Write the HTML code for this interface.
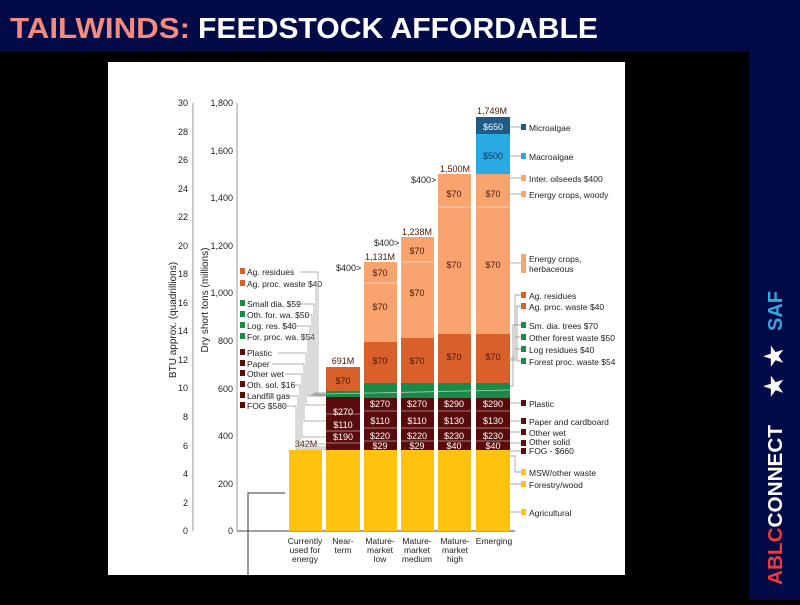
<!DOCTYPE html>
<html><head><style>body{margin:0;width:800px;height:600px;overflow:hidden;background:#000}</style></head><body>
<svg width="800" height="600" xmlns="http://www.w3.org/2000/svg" font-family="Liberation Sans, sans-serif">
<rect width="800" height="600" fill="#000"/>
<rect width="800" height="52" fill="#020a48"/>
<rect x="749" y="0" width="51" height="600" fill="#020a48"/>
<text x="10" y="38" font-size="29" font-weight="bold" fill="#f58a7e" textLength="180" lengthAdjust="spacingAndGlyphs">TAILWINDS:</text>
<text x="198" y="38" font-size="29" font-weight="bold" fill="#fff" textLength="400" lengthAdjust="spacingAndGlyphs">FEEDSTOCK AFFORDABLE</text>
<g transform="translate(782,585) rotate(-90)" font-weight="bold" font-size="20">
<text x="0" y="0" textLength="160" lengthAdjust="spacingAndGlyphs"><tspan fill="#f0393a">ABLC</tspan><tspan fill="#fff">CONNECT</tspan></text>
<text x="188" y="0" fill="#fff" font-size="24">★</text>
<text x="218" y="0" fill="#fff" font-size="24">★</text>
<text x="254" y="0" fill="#3aa6e0">SAF</text>
</g>
<rect x="108" y="62" width="517" height="513" fill="#fff"/>
<g font-size="9" fill="#222">
<!-- axes -->
<line x1="193" y1="103" x2="193" y2="531" stroke="#999"/>
<line x1="237" y1="103" x2="237" y2="531" stroke="#999"/>
<line x1="237" y1="531" x2="515" y2="531" stroke="#444"/>
<g text-anchor="end">
<text x="188" y="106">30</text><text x="188" y="135">28</text><text x="188" y="163">26</text><text x="188" y="192">24</text><text x="188" y="220">22</text><text x="188" y="249">20</text><text x="188" y="277">18</text><text x="188" y="306">16</text><text x="188" y="334">14</text><text x="188" y="363">12</text><text x="188" y="391">10</text><text x="188" y="420">8</text><text x="188" y="449">6</text><text x="188" y="477">4</text><text x="188" y="506">2</text><text x="188" y="534">0</text>
<text x="233" y="106">1,800</text><text x="233" y="154">1,600</text><text x="233" y="201">1,400</text><text x="233" y="249">1,200</text><text x="233" y="296">1,000</text><text x="233" y="344">800</text><text x="233" y="392">600</text><text x="233" y="439">400</text><text x="233" y="487">200</text><text x="233" y="534">0</text>
</g>
<text transform="translate(176,320) rotate(-90)" text-anchor="middle" font-size="10">BTU approx. (quadrillions)</text>
<text transform="translate(208,300) rotate(-90)" text-anchor="middle" font-size="10">Dry short tons (millions)</text>
<!-- bars -->
<rect x="289" y="450" width="33" height="81" fill="#ffc20e"/>
<g fill="#ffc20e"><rect x="326" y="450" width="34" height="81"/><rect x="364" y="450" width="33" height="81"/><rect x="401" y="450" width="33" height="81"/><rect x="438" y="450" width="33" height="81"/><rect x="476" y="450" width="34" height="81"/></g>
<g fill="#5a0b0b"><rect x="326" y="397" width="34" height="53"/><rect x="364" y="398" width="33" height="52"/><rect x="401" y="398" width="33" height="52"/><rect x="438" y="398" width="33" height="52"/><rect x="476" y="398" width="34" height="52"/></g>
<g fill="#1b8a48"><rect x="326" y="391" width="34" height="6"/><rect x="364" y="383" width="33" height="15"/><rect x="401" y="383" width="33" height="15"/><rect x="438" y="383" width="33" height="15"/><rect x="476" y="383" width="34" height="15"/></g>
<g fill="#d9602a"><rect x="326" y="367" width="34" height="24"/><rect x="364" y="342" width="33" height="41"/><rect x="401" y="338" width="33" height="45"/><rect x="438" y="334" width="33" height="49"/><rect x="476" y="334" width="34" height="49"/></g>
<g fill="#f9a46f"><rect x="364" y="262" width="33" height="80"/><rect x="401" y="237" width="33" height="101"/><rect x="438" y="174" width="33" height="160"/><rect x="476" y="174" width="34" height="160"/></g>
<rect x="476" y="134" width="34" height="40" fill="#2aaae2"/>
<rect x="476" y="117" width="34" height="17" fill="#1d5b86"/>
<g stroke="#fff" stroke-opacity="0.6" stroke-width="0.8">
<line x1="364" y1="283" x2="397" y2="283"/><line x1="401" y1="262" x2="434" y2="262"/><line x1="438" y1="207" x2="471" y2="207"/><line x1="476" y1="207" x2="510" y2="207"/>
<line x1="326" y1="414" x2="360" y2="414"/><line x1="326" y1="431" x2="360" y2="431"/><line x1="326" y1="443" x2="360" y2="443"/>
<line x1="364" y1="411" x2="510" y2="411"/><line x1="364" y1="428" x2="510" y2="428"/><line x1="364" y1="441" x2="510" y2="441"/>
<line x1="326" y1="394" x2="510" y2="390"/>
</g>
<g fill="#fff" text-anchor="middle">
<text x="343" y="415">$270</text><text x="343" y="428">$110</text><text x="343" y="440">$190</text>
<text x="380" y="407">$270</text><text x="380" y="424">$110</text><text x="380" y="439">$220</text><text x="380" y="449">$29</text>
<text x="417" y="407">$270</text><text x="417" y="424">$110</text><text x="417" y="439">$220</text><text x="417" y="449">$29</text>
<text x="454" y="407">$290</text><text x="454" y="424">$130</text><text x="454" y="439">$230</text><text x="454" y="449">$40</text>
<text x="493" y="407">$290</text><text x="493" y="424">$130</text><text x="493" y="439">$230</text><text x="493" y="449">$40</text>
<text x="493" y="130">$650</text>
</g>
<g text-anchor="middle" fill="#4a1a0a">
<text x="343" y="384">$70</text><text x="380" y="364">$70</text><text x="417" y="364">$70</text><text x="454" y="360">$70</text><text x="493" y="360">$70</text>
<text x="380" y="310">$70</text><text x="380" y="276">$70</text><text x="417" y="296">$70</text><text x="417" y="254">$70</text>
<text x="454" y="268">$70</text><text x="454" y="197">$70</text><text x="493" y="268">$70</text><text x="493" y="197">$70</text>
<text x="493" y="159" fill="#1a3050">$500</text>
<text x="306" y="447">342M</text><text x="343" y="364">691M</text><text x="380" y="260">1,131M</text><text x="417" y="235">1,238M</text><text x="455" y="172">1,500M</text><text x="492" y="114">1,749M</text>
</g>
<text x="336" y="271" fill="#222">$400&gt;</text><text x="374" y="246">$400&gt;</text><text x="411" y="183">$400&gt;</text>
<!-- bottom labels -->
<g text-anchor="middle" font-size="8.5">
<text x="305" y="544">Currently</text><text x="305" y="553">used for</text><text x="305" y="562">energy</text>
<text x="343" y="544">Near-</text><text x="343" y="553">term</text>
<text x="380" y="544">Mature-</text><text x="380" y="553">market</text><text x="380" y="562">low</text>
<text x="417" y="544">Mature-</text><text x="417" y="553">market</text><text x="417" y="562">medium</text>
<text x="455" y="544">Mature-</text><text x="455" y="553">market</text><text x="455" y="562">high</text>
<text x="494" y="544">Emerging</text>
</g>
<polyline points="248,575 248,493 285,493" fill="none" stroke="#333"/>
<!-- left legend -->
<g font-size="8.5">
<rect x="240" y="268" width="5" height="6" fill="#d9602a"/><text x="247" y="275">Ag. residues</text>
<rect x="240" y="280" width="5" height="6" fill="#d9602a"/><text x="247" y="287">Ag. proc. waste $40</text>
<rect x="240" y="300" width="5" height="6" fill="#1b8a48"/><text x="247" y="307">Small dia. $59</text>
<rect x="240" y="311" width="5" height="6" fill="#1b8a48"/><text x="247" y="318">Oth. for. wa. $50</text>
<rect x="240" y="322" width="5" height="6" fill="#1b8a48"/><text x="247" y="329">Log. res. $40</text>
<rect x="240" y="333" width="5" height="6" fill="#1b8a48"/><text x="247" y="340">For. proc. wa. $54</text>
<rect x="240" y="349" width="5" height="6" fill="#5a0b0b"/><text x="247" y="356">Plastic</text>
<rect x="240" y="360" width="5" height="6" fill="#5a0b0b"/><text x="247" y="367">Paper</text>
<rect x="240" y="370" width="5" height="6" fill="#5a0b0b"/><text x="247" y="377">Other wet</text>
<rect x="240" y="381" width="5" height="6" fill="#5a0b0b"/><text x="247" y="388">Oth. sol. $16</text>
<rect x="240" y="392" width="5" height="6" fill="#5a0b0b"/><text x="247" y="399">Landfill gas</text>
<rect x="240" y="402" width="5" height="6" fill="#5a0b0b"/><text x="247" y="409">FOG $580</text>
</g>
<g stroke="#999" stroke-width="0.7" fill="none">
<polyline points="300,272 318,272 318,395 326,395"/><polyline points="318,284 316,284 316,396 326,396"/>
<polyline points="298,304 314,304 314,393 326,393"/><polyline points="306,315 312,315 312,394 326,394"/>
<polyline points="288,326 310,326 310,395 326,395"/><polyline points="300,337 308,337 308,396 326,396"/>
<polyline points="278,353 306,353 306,405 326,405"/><polyline points="272,364 304,364 304,421 326,421"/>
<polyline points="285,374 302,374 302,437 326,437"/><polyline points="292,385 300,385 300,444 326,444"/>
<polyline points="287,396 298,396 298,447 326,447"/><polyline points="283,406 296,406 296,449 326,449"/>
</g>
<!-- right legend -->
<g font-size="8.5">
<rect x="521" y="124" width="5" height="6" fill="#1d5b86"/><text x="529" y="131">Microalgae</text>
<rect x="521" y="153" width="5" height="6" fill="#2aaae2"/><text x="529" y="160">Macroalgae</text>
<rect x="521" y="175" width="5" height="6" fill="#f9a46f"/><text x="529" y="182">Inter. oilseeds $400</text>
<rect x="521" y="191" width="5" height="6" fill="#f9a46f"/><text x="529" y="198">Energy crops, woody</text>
<rect x="521" y="254" width="5" height="19" fill="#f9a46f"/><text x="529" y="262">Energy crops,</text><text x="529" y="272">herbaceous</text>
<rect x="521" y="292" width="5" height="6" fill="#d9602a"/><text x="529" y="299">Ag. residues</text>
<rect x="521" y="303" width="5" height="6" fill="#d9602a"/><text x="529" y="310">Ag. proc. waste $40</text>
<rect x="521" y="322" width="5" height="6" fill="#1b8a48"/><text x="529" y="329">Sm. dia. trees $70</text>
<rect x="521" y="334" width="5" height="6" fill="#1b8a48"/><text x="529" y="341">Other forest waste $50</text>
<rect x="521" y="346" width="5" height="6" fill="#1b8a48"/><text x="529" y="353">Log residues $40</text>
<rect x="521" y="358" width="5" height="6" fill="#1b8a48"/><text x="529" y="365">Forest proc. waste $54</text>
<rect x="521" y="400" width="5" height="6" fill="#5a0b0b"/><text x="529" y="407">Plastic</text>
<rect x="521" y="418" width="5" height="6" fill="#5a0b0b"/><text x="529" y="425">Paper and cardboard</text>
<rect x="521" y="429" width="5" height="6" fill="#5a0b0b"/><text x="529" y="436">Other wet</text>
<rect x="521" y="440" width="5" height="6" fill="#5a0b0b"/><text x="529" y="445">Other solid</text>
<rect x="521" y="448" width="5" height="6" fill="#5a0b0b"/><text x="529" y="454">FOG - $660</text>
<rect x="521" y="469" width="5" height="6" fill="#ffc20e"/><text x="529" y="476">MSW/other waste</text>
<rect x="521" y="481" width="5" height="6" fill="#ffc20e"/><text x="529" y="488">Forestry/wood</text>
<rect x="521" y="509" width="5" height="6" fill="#ffc20e"/><text x="529" y="516">Agricultural</text>
</g>
<g stroke="#888" stroke-width="0.7" fill="none">
<line x1="510" y1="127" x2="521" y2="127"/><line x1="510" y1="156" x2="521" y2="156"/><line x1="510" y1="178" x2="521" y2="178"/><line x1="510" y1="194" x2="521" y2="194"/><line x1="510" y1="263" x2="521" y2="263"/>
<polyline points="510,358 515,358 515,295 521,295"/><polyline points="510,360 517,360 517,306 521,306"/>
<polyline points="510,386 513,386 513,325 521,325"/><line x1="515" y1="337" x2="521" y2="337"/><line x1="515" y1="349" x2="521" y2="349"/><line x1="517" y1="361" x2="521" y2="361"/>
<line x1="510" y1="403" x2="521" y2="403"/><line x1="510" y1="421" x2="521" y2="421"/><line x1="510" y1="432" x2="521" y2="432"/><line x1="510" y1="443" x2="521" y2="443"/><line x1="510" y1="451" x2="521" y2="451"/>
<polyline points="510,456 515,456 515,472 521,472"/><line x1="510" y1="484" x2="521" y2="484"/><line x1="510" y1="512" x2="521" y2="512"/>
</g>
</g>
</svg>
</body></html>
